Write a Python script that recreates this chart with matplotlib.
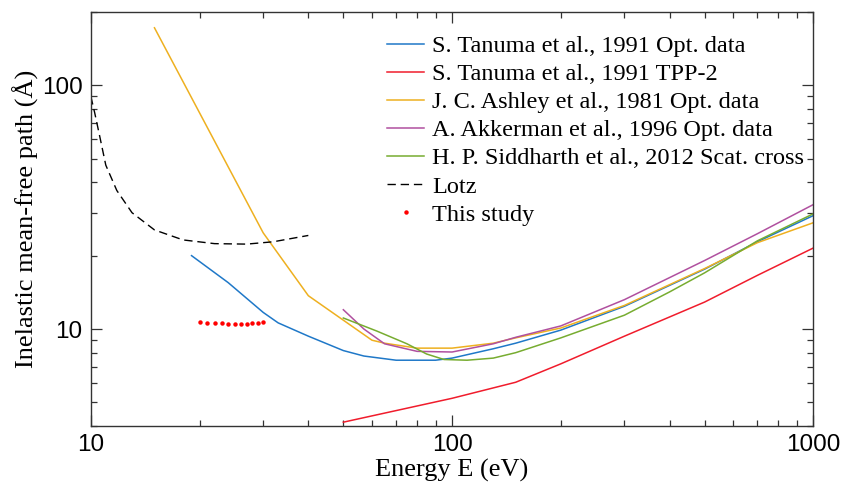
import matplotlib
matplotlib.use("Agg")
import matplotlib.pyplot as plt
from matplotlib.ticker import LogLocator, NullFormatter, FixedLocator, FixedFormatter

# Inelastic mean-free path data (energy in eV, IMFP in Angstrom)
tanuma_opt_E = [19, 24, 30, 33, 40, 50, 57, 70, 90, 100, 130, 150, 200, 300, 500, 700, 1000]
tanuma_opt_L = [20.0, 15.5, 11.7, 10.6, 9.35, 8.16, 7.75, 7.45, 7.45, 7.6, 8.3, 8.75, 9.9, 12.4, 17.6, 22.8, 29.2]

tanuma_tpp_E = [50, 100, 150, 200, 300, 500, 700, 1000]
tanuma_tpp_L = [4.15, 5.2, 6.05, 7.2, 9.35, 12.9, 16.6, 21.5]

ashley_E = [15, 30, 40, 60, 65, 80, 100, 130, 150, 200, 300, 500, 700, 1000]
ashley_L = [172, 24.8, 13.7, 9.0, 8.75, 8.35, 8.35, 8.75, 9.2, 10.1, 12.5, 17.7, 22.6, 27.3]

akkerman_E = [50, 57, 65, 80, 100, 130, 150, 200, 300, 500, 700, 1000]
akkerman_L = [12.0, 10.0, 8.7, 8.1, 8.05, 8.7, 9.25, 10.3, 13.2, 19.1, 24.6, 32.4]

siddharth_E = [50, 62, 75, 85, 95, 110, 130, 150, 200, 300, 400, 500, 700, 1000]
siddharth_L = [11.1, 9.8, 8.7, 7.9, 7.5, 7.45, 7.6, 8.0, 9.2, 11.4, 14.2, 17.0, 23.0, 29.7]

lotz_E = [10, 10.25, 10.6, 11, 11.8, 13, 15, 18, 22, 27, 32, 40]
lotz_L = [90, 77, 61, 47, 37, 30, 25.5, 23.2, 22.4, 22.3, 22.8, 24.2]

study_E = [20, 21, 22, 23, 24, 25, 26, 27, 28, 29, 30]
study_L = [10.7, 10.63, 10.58, 10.55, 10.5, 10.5, 10.5, 10.52, 10.58, 10.63, 10.7]

series_labels = [
    "S. Tanuma et al., 1991 Opt. data",
    "S. Tanuma et al., 1991 TPP-2",
    "J. C. Ashley et al., 1981 Opt. data",
    "A. Akkerman et al., 1996 Opt. data",
    "H. P. Siddharth et al., 2012 Scat. cross",
    "Lotz",
    "This study",
]

x_ticks = [10, 100, 1000]
y_ticks = [10, 100]

fig = plt.figure(figsize=(8.49, 4.92), dpi=100)
ax = fig.add_axes([0.107, 0.134, 0.851, 0.842])

lw = 1.1
ax.plot(tanuma_opt_E, tanuma_opt_L, color="#1f78c8", lw=lw, label=series_labels[0])
ax.plot(tanuma_tpp_E, tanuma_tpp_L, color="#f01c2c", lw=lw, label=series_labels[1])
ax.plot(ashley_E, ashley_L, color="#eeb020", lw=lw, label=series_labels[2])
ax.plot(akkerman_E, akkerman_L, color="#b0509f", lw=lw, label=series_labels[3])
ax.plot(siddharth_E, siddharth_L, color="#77ac30", lw=lw, label=series_labels[4])
ax.plot(lotz_E, lotz_L, color="black", lw=1.0, ls=(0, (6, 3.5)), label=series_labels[5])
ax.plot(study_E, study_L, ls="none", marker="o", ms=3.2, color="#ff0000",
        markeredgewidth=0, label=series_labels[6])

ax.set_xscale("log")
ax.set_yscale("log")
ax.set_xlim(10, 1000)
ax.set_ylim(4, 200)

ax.xaxis.set_major_locator(FixedLocator(x_ticks))
ax.xaxis.set_major_formatter(FixedFormatter([str(v) for v in x_ticks]))
ax.yaxis.set_major_locator(FixedLocator(y_ticks))
ax.yaxis.set_major_formatter(FixedFormatter([str(v) for v in y_ticks]))
for axis in (ax.xaxis, ax.yaxis):
    axis.set_minor_locator(LogLocator(base=10, subs=range(2, 10)))
    axis.set_minor_formatter(NullFormatter())

ax.tick_params(which="both", direction="in", top=True, right=True,
               color="#333333", width=0.9)
ax.tick_params(which="major", length=8, labelsize=17.5, pad=6)
ax.tick_params(which="minor", length=4.5)
for lab in ax.get_xticklabels() + ax.get_yticklabels():
    lab.set_family("Liberation Sans")
for sp in ax.spines.values():
    sp.set_color("#333333")
    sp.set_linewidth(1.0)

ax.set_xlabel("Energy E (eV)", family="Liberation Serif", fontsize=19, labelpad=2)
ax.set_ylabel("Inelastic mean-free path (Å)", family="Liberation Serif", fontsize=19, labelpad=2)

leg = ax.legend(loc="upper right", bbox_to_anchor=(1.011, 0.985), frameon=False,
                prop={"family": "Liberation Serif", "size": 17.5},
                handlelength=1.5, handletextpad=0.35, labelspacing=0.25,
                borderaxespad=0.3)

fig.savefig("out.png", dpi=100)
